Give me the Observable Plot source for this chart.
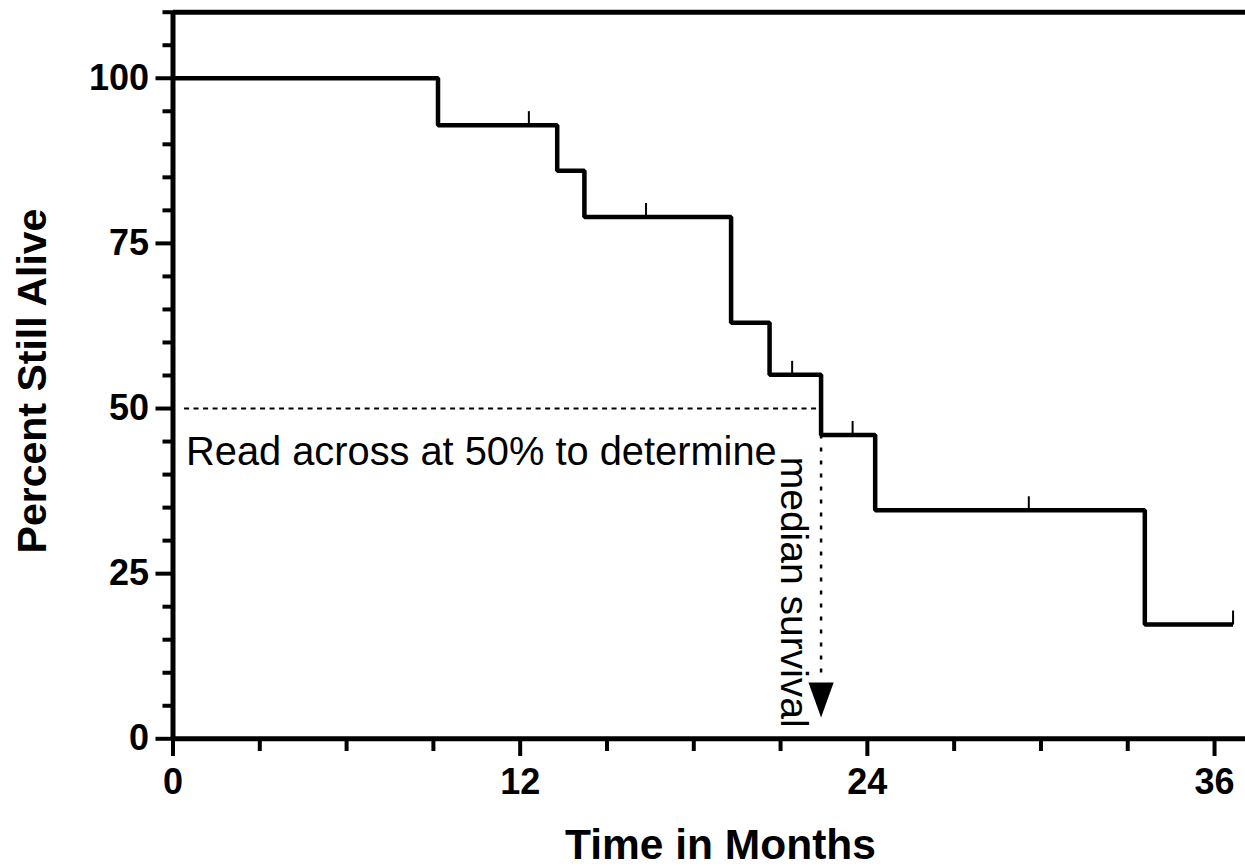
<!DOCTYPE html>
<html><head><meta charset="utf-8">
<script src="https://cdn.jsdelivr.net/npm/d3@7"></script>
<script src="https://cdn.jsdelivr.net/npm/@observablehq/plot@0.6"></script>
<style>html,body{margin:0;padding:0;background:#fff;}</style>
</head><body><div id="chart"></div>
<script>
// Kaplan-Meier survival steps (time in months, percent still alive)
const stepTimes = [0, 9.16, 13.28, 14.22, 19.29, 20.62, 22.40, 24.27, 33.59, 36.64];
const stepSurvival = [100, 92.9, 86.0, 79.0, 63.0, 55.1, 46.0, 34.6, 17.3, 17.3];
// censored observations
const censorTimes = [12.30, 16.35, 21.40, 23.49, 29.58, 36.64];
const censorSurvival = [92.9, 79.0, 55.1, 46.0, 34.6, 17.3];
// ticks
const xMajorTicks = [0, 12, 24, 36];
const xMinorTicks = [3, 6, 9, 15, 18, 21, 27, 30, 33];
const yMajorTicks = [0, 25, 50, 75, 100];
const yMinorTicks = [5, 10, 15, 20, 30, 35, 40, 45, 55, 60, 65, 70, 80, 85, 90, 95, 105, 110];
// median annotation
const medianSurvival = 50;
const medianTime = 22.40;
const xTitle = "Time in Months";
const yTitle = "Percent Still Alive";
const noteAcross = "Read across at 50% to determine";
const noteDown = "median survival";

const steps = stepTimes.map((t, i) => ({t, s: stepSurvival[i]}));
const censors = censorTimes.map((t, i) => ({t, s: censorSurvival[i]}));

const tickUp = {draw(ctx, size) { const r = Math.sqrt(size / Math.PI); ctx.moveTo(0, 0); ctx.lineTo(0, -r); }};
const triDown = {draw(ctx, size) { const r = Math.sqrt(size / Math.PI); ctx.moveTo(-0.72 * r, -r); ctx.lineTo(0.72 * r, -r); ctx.lineTo(0, r); ctx.closePath(); }};

const thin = {fontFamily: "Liberation Sans, Arial, sans-serif", fontWeight: "normal", fill: "black"};

const chart = Plot.plot({
  width: 1245,
  height: 868,
  marginLeft: 173,
  marginRight: 0,
  marginTop: 12,
  marginBottom: 130,
  style: {fontFamily: "Liberation Sans, Arial, sans-serif", fontWeight: "bold", background: "white", color: "black"},
  x: {domain: [0, 37.07], range: [172.5, 1245]},
  y: {domain: [0, 110], range: [738.3, 11.7]},
  marks: [
    // axes frame lines
    Plot.ruleY([0], {stroke: "black", strokeWidth: 5}),
    Plot.ruleY([110], {stroke: "black", strokeWidth: 5}),
    Plot.ruleX([0], {y1: 0, y2: 110, stroke: "black", strokeWidth: 5}),
    // y axis
    Plot.axisY(yMajorTicks, {tickSize: 17.5, tickPadding: 7, strokeWidth: 4, fontSize: 36, fontWeight: "bold", label: null}),
    Plot.axisY(yMinorTicks, {tickSize: 10.5, strokeWidth: 4, tickFormat: () => "", label: null}),
    // x axis
    Plot.axisX(xMajorTicks, {tickSize: 18, tickPadding: 12, strokeWidth: 4, fontSize: 36, fontWeight: "bold", label: null}),
    Plot.axisX(xMinorTicks, {tickSize: 13, strokeWidth: 4, tickFormat: () => "", label: null}),
    // axis titles
    Plot.text([xTitle], {frameAnchor: "bottom", textAnchor: "middle", lineAnchor: "middle", dx: 11, dy: 107, fontSize: 42.5, fontWeight: "bold", fill: "black"}),
    Plot.text([yTitle], {frameAnchor: "left", rotate: -90, textAnchor: "middle", lineAnchor: "middle", dx: -141, dy: 5.5, fontSize: 41, fontWeight: "bold", fill: "black"}),
    // median guides
    Plot.ruleY([medianSurvival], {x1: 0.4, x2: medianTime, stroke: "black", strokeWidth: 2, strokeDasharray: "5,4.5"}),
    Plot.ruleX([medianTime], {y1: 46.0, y2: 8.7, stroke: "black", strokeWidth: 2.5, strokeDasharray: "4,9"}),
    Plot.dot([{t: medianTime, s: 5.87}], {x: "t", y: "s", symbol: triDown, r: 17.5, fill: "black", stroke: "none"}),
    // survival curve
    Plot.line(steps, {x: "t", y: "s", curve: "step-after", stroke: "black", strokeWidth: 4.5, strokeLinejoin: "miter", strokeLinecap: "butt"}),
    Plot.dot(censors, {x: "t", y: "s", symbol: tickUp, r: 14, stroke: "black", strokeWidth: 2, fill: "none"}),
    // annotations
    Plot.text([noteAcross], {x: 0.45, y: 43.4, textAnchor: "start", lineAnchor: "middle", fontSize: 39.8, ...thin}),
    Plot.text([noteDown], {x: 21.43, y: 42.7, rotate: 90, textAnchor: "start", lineAnchor: "middle", fontSize: 39, ...thin})
  ]
});
document.getElementById("chart").appendChild(chart);
</script>
</body></html>
